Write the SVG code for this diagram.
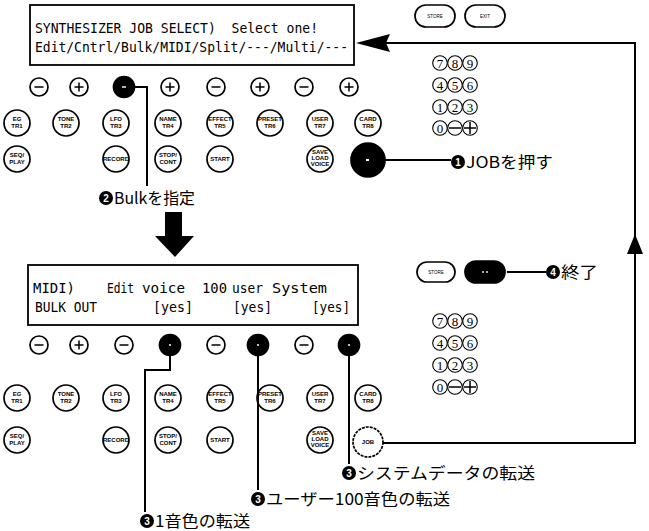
<svg xmlns="http://www.w3.org/2000/svg" xmlns:xlink="http://www.w3.org/1999/xlink" width="649" height="531" viewBox="0 0 649 531">
<style>
.bg{fill:#fff}
.lcdbox{fill:#fff;stroke:#000;stroke-width:1.8}
.lcd{font-family:"DejaVu Sans Mono","Liberation Mono",monospace;font-size:14.5px;fill:#000}
.btn{fill:#fff;stroke:#000;stroke-width:1.7}
.btnf{fill:#000;stroke:#000;stroke-width:1.7}
.sym{stroke:#000;stroke-width:1.5;fill:none}
.wsym{stroke:#fff;stroke-width:1.4;fill:none}
.bl{font-family:"Liberation Sans",Arial,sans-serif;font-size:6px;font-weight:bold;text-anchor:middle;fill:#000}
.tiny{font-family:"Liberation Sans",Arial,sans-serif;font-size:4.5px;text-anchor:middle;fill:#000}
.kc{fill:#fff;stroke:#000;stroke-width:1.1}
.kd{font-family:"Liberation Serif","Times New Roman",serif;font-size:13px;text-anchor:middle;fill:#000}
.conn{stroke:#000;stroke-width:2;fill:none}
.jp{font-family:"Noto Sans CJK JP","Noto Sans",sans-serif;font-size:16px;fill:#000}
.bd{fill:#000}
.bdn{font-family:"Liberation Sans",Arial,sans-serif;font-size:10px;font-weight:bold;fill:#fff;text-anchor:middle}
</style>
<defs>
<g id="bMinus"><circle class="btn" r="9"/><path class="sym" d="M-4.5,0H4.5"/></g>
<g id="bPlus"><circle class="btn" r="9"/><path class="sym" d="M-4.5,0H4.5M0,-4.5V4.5"/></g>
<g id="bFill"><circle class="btnf" r="10.5"/><circle fill="#fff" r="1"/></g>
<g id="bFillDash"><circle class="btnf" r="10.5"/><path class="wsym" d="M-2,0H2"/></g>
<circle id="b2" class="btn" r="13"/>
<circle id="kc" class="kc" r="7.3"/>
</defs>
<rect class="bg" x="0" y="0" width="649" height="531"/>

<!-- TOP PANEL -->
<g id="top-lcd">
<rect class="lcdbox" x="30" y="5" width="324" height="60"/>
<text class="lcd" x="35" y="33" textLength="283" lengthAdjust="spacingAndGlyphs" xml:space="preserve">SYNTHESIZER JOB SELECT)  Select one!</text>
<text class="lcd" x="35" y="52" textLength="313" lengthAdjust="spacingAndGlyphs">Edit/Cntrl/Bulk/MIDI/Split/---/Multi/---</text>
</g>

<g id="top-store"><rect class="btn" x="415" y="5" width="40" height="22" rx="11"/><text class="tiny" x="435" y="17.5">STORE</text></g>
<g id="top-exit"><rect class="btn" x="465" y="5" width="40" height="22" rx="11"/><text class="tiny" x="485" y="17.5">EXIT</text></g>

<g id="top-row1">
<use xlink:href="#bMinus" x="39" y="87"/>
<use xlink:href="#bPlus" x="79" y="87"/>
<use xlink:href="#bFillDash" x="124" y="87"/>
<use xlink:href="#bPlus" x="170" y="87"/>
<use xlink:href="#bMinus" x="216" y="87"/>
<use xlink:href="#bPlus" x="260" y="87"/>
<use xlink:href="#bMinus" x="304" y="87"/>
<use xlink:href="#bPlus" x="349" y="87"/>
</g>

<g id="top-eg"><use xlink:href="#b2" x="17" y="123"/><text class="bl" x="17" y="121">EG</text><text class="bl" x="17" y="128">TR1</text></g>
<g id="top-tone"><use xlink:href="#b2" x="66" y="123"/><text class="bl" x="66" y="121">TONE</text><text class="bl" x="66" y="128">TR2</text></g>
<g id="top-lfo"><use xlink:href="#b2" x="116" y="123"/><text class="bl" x="116" y="121">LFO</text><text class="bl" x="116" y="128">TR3</text></g>
<g id="top-name"><use xlink:href="#b2" x="168" y="123"/><text class="bl" x="168" y="121">NAME</text><text class="bl" x="168" y="128">TR4</text></g>
<g id="top-effect"><use xlink:href="#b2" x="220" y="123"/><text class="bl" x="220" y="121" font-size="5">EFFECT</text><text class="bl" x="220" y="128" font-size="5">TR5</text></g>
<g id="top-preset"><use xlink:href="#b2" x="270" y="123"/><text class="bl" x="270" y="121" font-size="5">PRESET</text><text class="bl" x="270" y="128" font-size="5">TR6</text></g>
<g id="top-user"><use xlink:href="#b2" x="320" y="123"/><text class="bl" x="320" y="121">USER</text><text class="bl" x="320" y="128">TR7</text></g>
<g id="top-card"><use xlink:href="#b2" x="368" y="123"/><text class="bl" x="368" y="121">CARD</text><text class="bl" x="368" y="128">TR8</text></g>

<g id="top-seq"><use xlink:href="#b2" x="17" y="159"/><text class="bl" x="17" y="157">SEQ/</text><text class="bl" x="17" y="164">PLAY</text></g>
<g id="top-record"><use xlink:href="#b2" x="116" y="159"/><text class="bl" x="116" y="161" font-size="5">RECORD</text></g>
<g id="top-stop"><use xlink:href="#b2" x="168" y="159"/><text class="bl" x="168" y="157">STOP/</text><text class="bl" x="168" y="164">CONT</text></g>
<g id="top-start"><use xlink:href="#b2" x="220" y="159"/><text class="bl" x="220" y="161">START</text></g>
<g id="top-save"><use xlink:href="#b2" x="320" y="159"/><text class="bl" x="320" y="154" font-size="5">SAVE</text><text class="bl" x="320" y="160" font-size="5">LOAD</text><text class="bl" x="320" y="166" font-size="5">VOICE</text></g>
<g id="top-job"><circle class="btnf" cx="368" cy="160" r="17"/><rect x="366" y="159" width="3" height="2" fill="#fff"/></g>

<g id="top-keypad">
<use xlink:href="#kc" x="440" y="63"/><use xlink:href="#kc" x="455" y="63"/><use xlink:href="#kc" x="470" y="63"/>
<use xlink:href="#kc" x="440" y="85"/><use xlink:href="#kc" x="455" y="85"/><use xlink:href="#kc" x="470" y="85"/>
<use xlink:href="#kc" x="440" y="107"/><use xlink:href="#kc" x="455" y="107"/><use xlink:href="#kc" x="470" y="107"/>
<use xlink:href="#kc" x="440" y="128"/><use xlink:href="#kc" x="455" y="128"/><use xlink:href="#kc" x="470" y="128"/>
<text class="kd" x="440" y="67.5">7</text><text class="kd" x="455" y="67.5">8</text><text class="kd" x="470" y="67.5">9</text>
<text class="kd" x="440" y="89.5">4</text><text class="kd" x="455" y="89.5">5</text><text class="kd" x="470" y="89.5">6</text>
<text class="kd" x="440" y="111.5">1</text><text class="kd" x="455" y="111.5">2</text><text class="kd" x="470" y="111.5">3</text>
<text class="kd" x="440" y="132.5">0</text>
<path class="sym" d="M449,128H461M464,128H476M470,122V134"/>
</g>

<g id="label-1">
<circle class="bd" cx="458" cy="162" r="7"/><text class="bdn" x="458" y="165.5">1</text>
<text class="jp" x="466" y="168" textLength="87" lengthAdjust="spacingAndGlyphs">JOBを押す</text>
</g>
<g id="label-2">
<circle class="bd" cx="106" cy="198" r="7"/><text class="bdn" x="106" y="201.5">2</text>
<text class="jp" x="114" y="204" textLength="81" lengthAdjust="spacingAndGlyphs">Bulkを指定</text>
</g>

<g id="big-arrow">
<polygon class="bd" points="165,212 182,212 182,236 194,236 175,257 155,236 165,236"/>
</g>

<!-- BOTTOM PANEL -->
<g id="bottom-lcd">
<rect class="lcdbox" x="28" y="265" width="330" height="60"/>
<text class="lcd" y="293" x="33" textLength="42" lengthAdjust="spacingAndGlyphs">MIDI)</text>
<text class="lcd" y="293" x="107" textLength="27" lengthAdjust="spacingAndGlyphs">Edit</text>
<text class="lcd" y="293" x="142" textLength="43" lengthAdjust="spacingAndGlyphs">voice</text>
<text class="lcd" y="293" x="202" textLength="25" lengthAdjust="spacingAndGlyphs">100</text>
<text class="lcd" y="293" x="232" textLength="31" lengthAdjust="spacingAndGlyphs">user</text>
<text class="lcd" y="293" x="272" textLength="55" lengthAdjust="spacingAndGlyphs">System</text>
<text class="lcd" y="312" x="35" textLength="62" lengthAdjust="spacingAndGlyphs">BULK OUT</text>
<text class="lcd" y="312" x="153" textLength="40" lengthAdjust="spacingAndGlyphs">[yes]</text>
<text class="lcd" y="312" x="233" textLength="39" lengthAdjust="spacingAndGlyphs">[yes]</text>
<text class="lcd" y="312" x="312" textLength="38" lengthAdjust="spacingAndGlyphs">[yes]</text>
</g>

<g id="bottom-store"><rect class="btn" x="417" y="262" width="38" height="20" rx="10"/><text class="tiny" x="436" y="273.5">STORE</text></g>
<g id="bottom-exit"><rect class="btnf" x="465" y="261" width="40" height="22" rx="11"/><circle cx="483" cy="272" r="0.9" fill="#fff"/><circle cx="487" cy="272" r="0.9" fill="#fff"/></g>
<g id="label-4">
<circle class="bd" cx="553" cy="272" r="7"/><text class="bdn" x="553" y="275.5">4</text>
<text class="jp" x="561" y="278" textLength="37" lengthAdjust="spacingAndGlyphs">終了</text>
</g>

<g id="bottom-row1">
<use xlink:href="#bMinus" x="39" y="345"/>
<use xlink:href="#bPlus" x="79" y="345"/>
<use xlink:href="#bMinus" x="124" y="345"/>
<use xlink:href="#bFill" x="170" y="345"/>
<use xlink:href="#bMinus" x="216" y="345"/>
<use xlink:href="#bFill" x="258" y="345"/>
<use xlink:href="#bMinus" x="304" y="345"/>
<use xlink:href="#bFill" x="349" y="345"/>
</g>

<g id="bottom-eg"><use xlink:href="#b2" x="17" y="398"/><text class="bl" x="17" y="396">EG</text><text class="bl" x="17" y="403">TR1</text></g>
<g id="bottom-tone"><use xlink:href="#b2" x="66" y="398"/><text class="bl" x="66" y="396">TONE</text><text class="bl" x="66" y="403">TR2</text></g>
<g id="bottom-lfo"><use xlink:href="#b2" x="116" y="398"/><text class="bl" x="116" y="396">LFO</text><text class="bl" x="116" y="403">TR3</text></g>
<g id="bottom-name"><use xlink:href="#b2" x="168" y="398"/><text class="bl" x="168" y="396">NAME</text><text class="bl" x="168" y="403">TR4</text></g>
<g id="bottom-effect"><use xlink:href="#b2" x="220" y="398"/><text class="bl" x="220" y="396" font-size="5">EFFECT</text><text class="bl" x="220" y="403" font-size="5">TR5</text></g>
<g id="bottom-preset"><use xlink:href="#b2" x="270" y="398"/><text class="bl" x="270" y="396" font-size="5">PRESET</text><text class="bl" x="270" y="403" font-size="5">TR6</text></g>
<g id="bottom-user"><use xlink:href="#b2" x="320" y="398"/><text class="bl" x="320" y="396">USER</text><text class="bl" x="320" y="403">TR7</text></g>
<g id="bottom-card"><use xlink:href="#b2" x="368" y="398"/><text class="bl" x="368" y="396">CARD</text><text class="bl" x="368" y="403">TR8</text></g>

<g id="bottom-seq"><use xlink:href="#b2" x="17" y="440"/><text class="bl" x="17" y="438">SEQ/</text><text class="bl" x="17" y="445">PLAY</text></g>
<g id="bottom-record"><use xlink:href="#b2" x="116" y="440"/><text class="bl" x="116" y="442" font-size="5">RECORD</text></g>
<g id="bottom-stop"><use xlink:href="#b2" x="168" y="440"/><text class="bl" x="168" y="438">STOP/</text><text class="bl" x="168" y="445">CONT</text></g>
<g id="bottom-start"><use xlink:href="#b2" x="220" y="440"/><text class="bl" x="220" y="442">START</text></g>
<g id="bottom-save"><use xlink:href="#b2" x="320" y="440"/><text class="bl" x="320" y="435" font-size="5">SAVE</text><text class="bl" x="320" y="441" font-size="5">LOAD</text><text class="bl" x="320" y="447" font-size="5">VOICE</text></g>
<g id="bottom-job"><circle class="btn" cx="368" cy="442" r="15" stroke-dasharray="3 1"/><text class="bl" x="368" y="444">JOB</text></g>

<g id="bottom-keypad">
<use xlink:href="#kc" x="440" y="321"/><use xlink:href="#kc" x="455" y="321"/><use xlink:href="#kc" x="470" y="321"/>
<use xlink:href="#kc" x="440" y="343"/><use xlink:href="#kc" x="455" y="343"/><use xlink:href="#kc" x="470" y="343"/>
<use xlink:href="#kc" x="440" y="365"/><use xlink:href="#kc" x="455" y="365"/><use xlink:href="#kc" x="470" y="365"/>
<use xlink:href="#kc" x="440" y="387"/><use xlink:href="#kc" x="455" y="387"/><use xlink:href="#kc" x="470" y="387"/>
<text class="kd" x="440" y="325.5">7</text><text class="kd" x="455" y="325.5">8</text><text class="kd" x="470" y="325.5">9</text>
<text class="kd" x="440" y="347.5">4</text><text class="kd" x="455" y="347.5">5</text><text class="kd" x="470" y="347.5">6</text>
<text class="kd" x="440" y="369.5">1</text><text class="kd" x="455" y="369.5">2</text><text class="kd" x="470" y="369.5">3</text>
<text class="kd" x="440" y="391.5">0</text>
<path class="sym" d="M449,387H461M464,387H476M470,381V393"/>
</g>

<g id="label-3a">
<circle class="bd" cx="147" cy="521" r="7"/><text class="bdn" x="147" y="524.5">3</text>
<text class="jp" x="155" y="527" textLength="95" lengthAdjust="spacingAndGlyphs">1音色の転送</text>
</g>
<g id="label-3b">
<circle class="bd" cx="258" cy="499" r="7"/><text class="bdn" x="258" y="502.5">3</text>
<text class="jp" x="266" y="505" textLength="184" lengthAdjust="spacingAndGlyphs">ユーザー100音色の転送</text>
</g>
<g id="label-3c">
<circle class="bd" cx="349" cy="473" r="7"/><text class="bdn" x="349" y="476.5">3</text>
<text class="jp" x="357" y="479" textLength="178" lengthAdjust="spacingAndGlyphs">システムデータの転送</text>
</g>

<g id="connectors">
<path class="conn" d="M134,87H147V186"/>
<path class="conn" d="M385,160H451"/>
<path class="conn" d="M170,356V370H145V512"/>
<path class="conn" d="M258,356V490"/>
<path class="conn" d="M349,356V464"/>
<path class="conn" d="M507,272H546"/>
<path class="conn" d="M383,443H635V43H385"/>
<polygon class="bd" points="356,43 390,34 386,43 390,52"/>
<polygon class="bd" points="635,234 627,254 643,254"/>
</g>
</svg>
